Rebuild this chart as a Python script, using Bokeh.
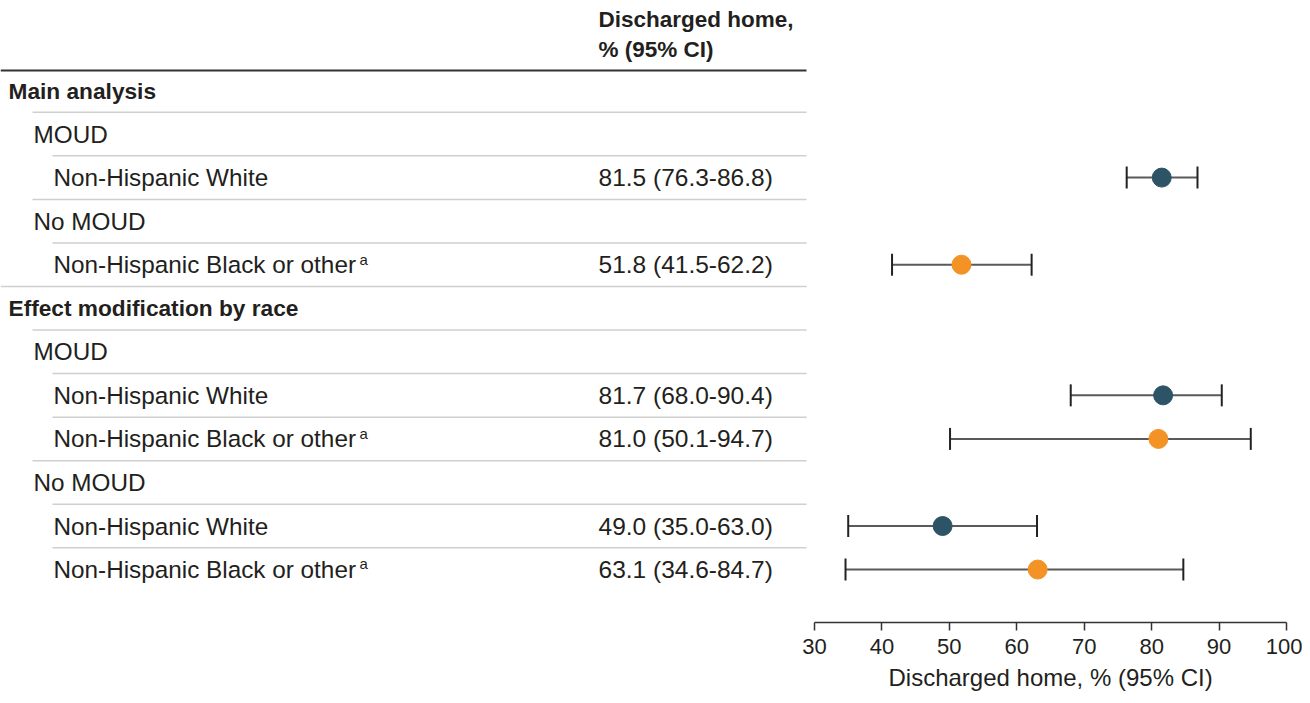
from bokeh.plotting import figure
from bokeh.models import Range1d, ColumnDataSource, Whisker, TeeHead, FixedTicker, Title
from bokeh.core.properties import value
from bokeh.embed import file_html
from bokeh.resources import INLINE

# ---------------- data ----------------
labels = ["Main analysis", "MOUD", "Non-Hispanic White", "No MOUD",
          "Non-Hispanic Black or other", "Effect modification by race", "MOUD",
          "Non-Hispanic White", "Non-Hispanic Black or other", "No MOUD",
          "Non-Hispanic White", "Non-Hispanic Black or other"]
levels = [0, 1, 2, 1, 2, 0, 1, 2, 2, 1, 2, 2]
footnote = ["", "", "", "", "a", "", "", "", "a", "", "", "a"]

est_rows = [2, 4, 7, 8, 10, 11]
estimate = [81.5, 51.8, 81.7, 81.0, 49.0, 63.1]
lower = [76.3, 41.5, 68.0, 50.1, 35.0, 34.6]
upper = [86.8, 62.2, 90.4, 94.7, 63.0, 84.7]
group = ["White", "Black", "White", "Black", "White", "Black"]

ticks = [30, 40, 50, 60, 70, 80, 90, 100]
header = ["Discharged home,", "% (95% CI)"]
x_title = "Discharged home, % (95% CI)"

# ---------------- layout ----------------
FONT = "Liberation Sans"
FIG_W, FIG_H = 1302, 695
FRAME_H = 622
X0_PX, X1_PX = 814, 1286
scale = (X1_PX - X0_PX) / (ticks[-1] - ticks[0])
x_start = ticks[0] - X0_PX / scale
x_end = ticks[-1] + (FIG_W - X1_PX) / scale


def xp(px):
    return x_start + px / scale


ROW = 43.55
FIRST = 90.0
y_top = -FIRST / ROW
y_bot = (FRAME_H - FIRST) / ROW


def yp(py):
    return (py - FIRST) / ROW


indent_txt = [8, 33, 53]
indent_line = [0, 32, 52]
LINE_END = 806
VAL_X = 598
SUP_X = 359
TITLE_LEFT = 888

colors = {"White": "#2c5466", "Black": "#f39325"}
TXT = "#231f20"

p = figure(width=FIG_W, height=FIG_H, output_backend="svg", toolbar_location=None,
           x_range=Range1d(x_start, x_end), y_range=Range1d(y_bot, y_top),
           min_border_left=0, min_border_right=0, min_border_top=0,
           min_border_bottom=FIG_H - FRAME_H)
p.outline_line_color = None
p.xgrid.visible = False
p.ygrid.visible = False
p.yaxis.visible = False

# header
p.text(x=[xp(VAL_X)] * 2, y=[yp(18.5), yp(48.5)], text=header,
       text_font=value(FONT), text_font_size="22.5px", text_font_style="bold",
       text_color=TXT, text_baseline="middle", text_align="left")
p.segment(x0=[xp(0)], x1=[xp(LINE_END)], y0=[yp(70)], y1=[yp(70)],
          line_color="#333333", line_width=2)

# separator lines (between rows), starting at indent of next row
sx0, sx1, sy = [], [], []
for i in range(len(labels) - 1):
    sx0.append(xp(indent_line[levels[i + 1]]))
    sx1.append(xp(LINE_END))
    sy.append(i + 0.5)
p.segment(x0=sx0, x1=sx1, y0=sy, y1=sy, line_color="#cfcfcf", line_width=1.5)

# row labels
for lvl, bold in ((0, True), (1, False), (2, False)):
    idx = [i for i in range(len(labels)) if levels[i] == lvl]
    p.text(x=[xp(indent_txt[lvl])] * len(idx), y=idx, text=[labels[i] for i in idx],
           text_font=value(FONT), text_font_size="22.7px" if bold else "24.3px",
           text_font_style="bold" if bold else "normal",
           text_color=TXT, text_baseline="middle", text_align="left")

# footnote superscripts
fidx = [i for i in range(len(labels)) if footnote[i]]
p.text(x=[xp(SUP_X)] * len(fidx), y=[i - 0.13 for i in fidx], text=[footnote[i] for i in fidx],
       text_font=value(FONT), text_font_size="15px", text_color=TXT,
       text_baseline="middle", text_align="left")

# value column
vals = [f"{e:.1f} ({l:.1f}-{u:.1f})" for e, l, u in zip(estimate, lower, upper)]
p.text(x=[xp(VAL_X)] * len(vals), y=est_rows, text=vals,
       text_font=value(FONT), text_font_size="24.5px", text_color=TXT,
       text_baseline="middle", text_align="left")

# forest plot
src = ColumnDataSource(dict(y=est_rows, est=estimate, lo=lower, hi=upper,
                            color=[colors[g] for g in group]))
w = Whisker(base="y", lower="lo", upper="hi", dimension="width", source=src,
            line_color="#5a5a5a", line_width=2,
            lower_head=TeeHead(size=22, line_color="#222222", line_width=2),
            upper_head=TeeHead(size=22, line_color="#222222", line_width=2))
p.add_layout(w)
p.scatter(x="est", y="y", source=src, size=19, fill_color="color", line_color="color")

# axis
ax = p.xaxis[0]
ax.bounds = (ticks[0], ticks[-1])
ax.ticker = FixedTicker(ticks=ticks)
ax.minor_tick_line_color = None
ax.major_tick_in = 0
ax.major_tick_out = 8
ax.axis_line_color = "#333333"
ax.axis_line_width = 1.5
ax.major_tick_line_color = "#333333"
ax.major_tick_line_width = 1.5
ax.major_label_text_font = FONT
ax.major_label_text_font_size = "22px"
ax.major_label_text_color = TXT
ax.major_label_standoff = 8

# axis title under the bounded axis (as a bottom title)
p.add_layout(Title(text=x_title, align="left", offset=TITLE_LEFT,
                   text_font=FONT, text_font_size="24px", text_font_style="normal",
                   text_color=TXT, standoff=10), "below")

open("out.html", "w").write(file_html(p, INLINE))
